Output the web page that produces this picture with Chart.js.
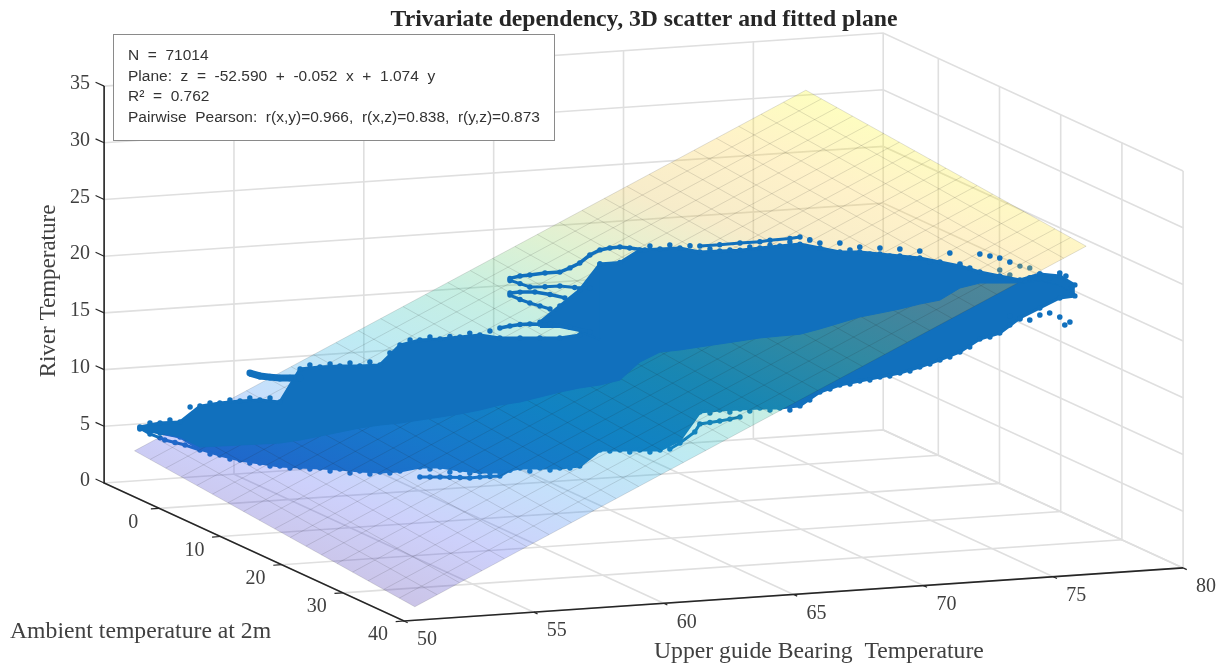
<!DOCTYPE html>
<html>
<head>
<meta charset="utf-8">
<title>Trivariate dependency</title>
<script src="https://cdn.jsdelivr.net/npm/chart.js@4/dist/chart.umd.min.js"></script>
<style>
  html, body { margin: 0; padding: 0; background: #fff; }
  canvas { display: block; }
</style>
</head>
<body>
<canvas id="chart" width="1227" height="668"></canvas>
<script>
// Axis ticks
const bearingTicks = [50, 55, 60, 65, 70, 75, 80];
const ambientTicks = [0, 10, 20, 30, 40];
const riverTicks = [0, 5, 10, 15, 20, 25, 30, 35];
const ambientMin = -9;
const riverMax = 35;

// Fitted plane: z = c0 + c1 * ambient + c2 * bearing
const planeCoef = [-52.59, -0.052, 1.074];
const planeBearing = [51.1, 76.95];
const planeAmbient = [-8.7, 37.1];
const planeCells = [30, 18];

// Scatter cloud, as readings along the bearing axis
const cloudBearing = [51.07, 51.63, 52.18, 52.73, 53.28, 53.84, 54.39, 54.94, 55.50, 56.05, 56.60, 57.15, 57.71, 58.26, 58.81, 59.37, 59.92, 60.47, 61.02, 61.58, 62.13, 62.68, 63.23, 63.79, 64.34, 64.89, 65.45, 66.00, 66.55, 67.10, 67.66, 68.21, 68.76, 69.32, 69.87, 70.42, 70.97, 71.53, 72.08, 72.63, 73.19, 73.74, 74.29, 74.84, 75.40, 75.95, 76.50, 76.92];
const cloudAmbient = [-7.70, -6.78, -5.85, -4.93, -4.01, -3.09, -2.17, -1.24, -0.32, 0.60, 1.52, 2.44, 3.36, 4.29, 5.21, 6.13, 7.05, 7.97, 8.90, 9.82, 10.74, 11.66, 12.58, 13.50, 14.43, 15.35, 16.27, 17.19, 18.11, 19.03, 19.96, 20.88, 21.80, 22.72, 23.64, 24.57, 25.49, 26.41, 27.33, 28.25, 29.17, 30.10, 31.02, 31.94, 32.86, 33.78, 34.70, 35.39];
const riverTop = [5.10, 5.59, 5.82, 7.37, 7.78, 8.10, 8.33, 8.30, 11.35, 11.67, 11.90, 12.05, 12.28, 14.18, 14.76, 14.99, 15.32, 15.63, 15.51, 15.65, 15.80, 15.94, 16.35, 22.75, 23.02, 24.27, 24.50, 24.73, 24.52, 24.76, 24.97, 25.30, 25.62, 25.93, 25.73, 25.52, 25.66, 25.63, 25.59, 25.57, 25.35, 25.14, 24.75, 24.54, 24.33, 25.01, 24.97, 24.29];
const riverMid = [4.92, 4.71, 4.50, 3.76, 3.99, 4.22, 4.45, 4.68, 5.09, 5.58, 6.08, 6.58, 6.98, 7.30, 7.71, 8.11, 8.53, 9.02, 9.60, 10.01, 10.59, 11.17, 11.68, 12.08, 12.66, 14.39, 15.41, 15.74, 16.15, 16.55, 16.96, 17.37, 17.68, 17.98, 18.59, 19.26, 19.93, 20.42, 20.92, 21.50, 21.99, 23.20, 23.78, 23.92, 24.07, 24.47, 24.18, 23.50];
const riverBottom = [4.92, 4.71, 4.50, 3.58, 3.19, 2.90, 2.78, 2.65, 2.71, 2.76, 2.81, 2.79, 2.84, 3.07, 3.56, 3.70, 3.59, 3.55, 3.69, 4.19, 4.33, 4.47, 4.80, 6.35, 6.49, 6.63, 6.77, 7.80, 10.41, 10.73, 10.96, 11.19, 11.33, 11.66, 13.03, 13.79, 14.29, 14.78, 15.27, 15.95, 16.71, 17.56, 18.85, 19.51, 20.98, 22.01, 23.03, 23.32];

// Lobe above the gap near bearing 62-64
const lobeBearing = [62.13, 62.68, 63.23, 63.79];
const lobeAmbient = [10.74, 11.66, 12.58, 13.50];
const lobeTop = [17.20, 18.76, 20.32, 22.75];
const lobeBottom = [16.76, 16.90, 16.70, 16.05];

// Excursions of the cloud, [bearing, ambient, river]
const tongueLow = [[54.11, -2.63, 10.64], [54.39, -2.17, 10.45], [54.67, -1.71, 10.42], [54.94, -1.24, 10.41], [55.22, -0.78, 10.48], [55.50, -0.32, 10.56]];
const beadStrip = [[61.02, 8.90, 16.39], [61.30, 9.36, 16.64], [61.58, 9.82, 16.85], [61.85, 10.28, 16.96], [62.13, 10.74, 17.02], [62.41, 11.20, 17.10], [62.96, 12.12, 16.95], [63.51, 13.04, 16.68]];
const tongueMidTop = [[61.30, 9.36, 19.55], [61.58, 9.82, 19.70], [61.99, 10.51, 19.82], [62.41, 11.20, 19.70], [62.82, 11.89, 19.51]];
const tongueMidLow = [[61.30, 9.36, 19.37], [61.58, 9.82, 19.05], [61.85, 10.28, 18.81], [62.13, 10.74, 18.62], [62.41, 11.20, 18.42]];
const tongueHighTop = [[61.30, 9.36, 20.84], [61.58, 9.82, 21.12], [61.85, 10.28, 21.28], [62.27, 10.97, 21.56], [62.68, 11.66, 21.75], [62.96, 12.12, 22.19], [63.23, 12.58, 22.70], [63.51, 13.04, 23.47], [63.79, 13.50, 23.99], [64.06, 13.97, 24.23], [64.34, 14.43, 24.39], [64.61, 14.89, 24.37], [65.03, 15.58, 24.30]];
const tongueHighLow = [[61.30, 9.36, 20.66], [61.58, 9.82, 20.45], [61.85, 10.28, 20.23], [62.27, 10.97, 20.35], [62.68, 11.66, 20.52], [63.09, 12.35, 20.50], [63.51, 13.04, 20.56]];
const ridgeTop = [[66.55, 18.11, 25.05], [67.10, 19.03, 25.30], [67.66, 19.96, 25.60], [68.21, 20.88, 25.85], [68.49, 21.34, 26.06], [69.04, 22.26, 26.35], [69.32, 22.72, 26.56]];
const tipUnder = [[51.07, -7.70, 5.01], [51.35, -7.24, 4.55], [51.63, -6.78, 4.28], [51.76, -6.55, 4.13], [52.04, -6.08, 3.98], [52.32, -5.62, 3.83], [52.73, -4.93, 3.49]];
const rowUnder = [[58.81, 5.21, 2.68], [59.09, 5.67, 2.75], [59.37, 6.13, 2.82], [59.64, 6.59, 2.88], [59.92, 7.05, 2.92], [60.19, 7.51, 2.95], [60.47, 7.97, 3.10], [60.75, 8.43, 3.22], [61.02, 8.90, 3.34], [61.30, 9.36, 3.94]];
const chainUnder = [[65.72, 16.73, 6.93], [66.00, 17.19, 7.53], [66.41, 17.88, 8.62], [66.55, 18.11, 9.36], [66.83, 18.57, 9.55], [67.10, 19.03, 9.76], [67.38, 19.50, 10.00], [67.66, 19.96, 10.26]];

// Beads on the edge of the cloud
const edgeTop = [[51.35, -7.24, 5.52], [51.90, -6.31, 5.93], [52.46, -5.39, 7.21], [53.01, -4.47, 7.71], [53.56, -3.55, 8.12], [54.11, -2.63, 8.44], [54.67, -1.71, 8.58], [55.77, 0.14, 11.77], [56.33, 1.06, 12.00], [56.88, 1.98, 12.24], [57.43, 2.90, 12.47], [57.98, 3.83, 13.40], [58.54, 4.75, 14.69], [59.09, 5.67, 15.10], [59.64, 6.59, 15.29], [60.19, 7.51, 15.73], [60.75, 8.43, 16.05], [65.17, 15.81, 24.69], [65.72, 16.73, 24.92], [66.28, 17.65, 25.00], [66.83, 18.57, 24.86], [67.38, 19.50, 24.91], [67.93, 20.42, 25.32], [68.49, 21.34, 25.63], [69.04, 22.26, 26.04]];
const edgeBottom = [[53.01, -4.47, 3.21], [53.56, -3.55, 2.92], [54.11, -2.63, 2.71], [54.67, -1.71, 2.58], [55.22, -0.78, 2.55], [55.77, 0.14, 2.60], [56.33, 1.06, 2.57], [56.88, 1.98, 2.53], [57.43, 2.90, 2.59], [57.98, 3.83, 2.82], [59.09, 5.67, 3.46], [59.64, 6.59, 3.33], [60.19, 7.51, 3.40], [60.75, 8.43, 3.53], [61.30, 9.36, 3.94], [61.85, 10.28, 3.99], [62.41, 11.20, 4.22], [62.96, 12.12, 4.55], [64.06, 13.97, 6.33], [64.61, 14.89, 6.38], [65.17, 15.81, 6.53], [66.83, 18.57, 10.40], [67.38, 19.50, 10.63], [67.93, 20.42, 10.86], [68.49, 21.34, 11.09], [69.04, 22.26, 11.23], [69.59, 23.18, 12.26], [70.15, 24.10, 13.37], [70.70, 25.03, 13.95], [71.25, 25.95, 14.44], [71.80, 26.87, 14.94], [72.36, 27.79, 15.53], [72.91, 28.71, 16.28], [73.46, 29.64, 17.05], [74.01, 30.56, 18.07], [74.57, 31.48, 19.09], [75.12, 32.40, 20.29]];

// Loose points on the warm end
const loosePoints = [[69.59, 23.18, 26.37], [69.87, 23.64, 26.17], [70.42, 24.57, 26.31], [70.70, 25.03, 25.77], [70.97, 25.49, 26.10], [71.25, 25.95, 25.56], [71.53, 26.41, 26.16], [71.80, 26.87, 25.52], [72.08, 27.33, 26.21], [72.36, 27.79, 25.49], [72.63, 28.25, 26.18], [72.91, 28.71, 25.28], [73.46, 29.64, 26.22], [73.74, 30.10, 25.32], [74.01, 30.56, 25.04], [74.29, 31.02, 26.34], [74.57, 31.48, 26.23], [74.84, 31.94, 26.13], [75.12, 32.40, 25.85], [75.67, 33.32, 24.59], [75.95, 33.78, 25.01], [76.22, 34.24, 24.73], [76.50, 34.70, 25.23], [76.67, 34.98, 25.02], [76.83, 35.26, 24.09], [75.67, 33.32, 20.88], [75.95, 33.78, 21.39], [76.22, 34.24, 21.64], [76.50, 34.70, 21.35], [76.78, 35.17, 20.99], [76.64, 34.93, 20.69], [75.40, 32.86, 20.89], [75.12, 32.40, 21.08]];
const looseUnder = [[74.84, 31.94, 25.07], [75.12, 32.40, 24.70], [75.40, 32.86, 25.56], [75.67, 33.32, 25.47]];

const infoLines = ['N  =  71014', 'Plane:  z  =  -52.590  +  -0.052  x  +  1.074  y', 'R\u00b2  =  0.762', 'Pairwise  Pearson:  r(x,y)=0.966,  r(x,z)=0.838,  r(y,z)=0.873'];

// Orthographic view of the box, in canvas pixels
function project(bearing, ambient, river) {
  return {
    x: 404 + (bearing - 50) * 25.97 + (ambient - 40) * 6.12,
    y: 621 - (bearing - 50) * 1.77 + (ambient - 40) * 2.816 - river * 11.34
  };
}
function fromTriples(list) { return list.map(p => project(p[0], p[1], p[2])); }
function fromStations(b, a, z) { return b.map((v, i) => project(v, a[i], z[i])); }
function planeZ(bearing, ambient) { return planeCoef[0] + planeCoef[1] * ambient + planeCoef[2] * bearing; }

const bearingMin = bearingTicks[0], bearingMax = bearingTicks[bearingTicks.length - 1];
const ambientMax = ambientTicks[ambientTicks.length - 1];
const gridColor = '#dfdfdf', axisColor = '#262626', dotColor = '#1170bd';
const datasets = [];

function addLine(points, color, width, order) {
  datasets.push({ data: points, showLine: true, pointRadius: 0, borderColor: color, borderWidth: width, order: order, tension: 0 });
}
function addCloud(points, width, radius, order, fill) {
  datasets.push({ data: points, showLine: width > 0, pointRadius: radius, pointBorderWidth: 0, backgroundColor: dotColor, borderColor: dotColor, borderWidth: width, order: order, fill: fill || false, tension: 0 });
}

// Walls and floor
riverTicks.forEach(z => {
  addLine([project(bearingMin, ambientMin, z), project(bearingMax, ambientMin, z), project(bearingMax, ambientMax, z)], gridColor, 1.6, 50);
});
bearingTicks.forEach(b => {
  addLine([project(b, ambientMax, 0), project(b, ambientMin, 0), project(b, ambientMin, riverMax)], gridColor, 1.6, 50);
});
ambientTicks.forEach(a => {
  addLine([project(bearingMin, a, 0), project(bearingMax, a, 0), project(bearingMax, a, riverMax)], gridColor, 1.6, 50);
});

// Part of the cloud under the plane
addCloud(fromStations(cloudBearing, cloudAmbient, riverMid), 2, 0, 30, '+1');
addCloud(fromStations(cloudBearing, cloudAmbient, riverBottom), 3, 2.7, 29);
addCloud(fromTriples(tipUnder), 3, 2.7, 28);
addCloud(fromTriples(rowUnder), 3, 2.7, 28);
addCloud(fromTriples(chainUnder), 3, 2.7, 28);
addCloud(fromTriples(edgeBottom), 0, 2.7, 28);
addCloud(fromTriples(looseUnder), 0, 2.7, 27);
const planeAfter = datasets.length - 1;

// Part of the cloud above the plane
addCloud(fromStations(cloudBearing, cloudAmbient, riverTop), 3, 2.7, 20, '+1');
addCloud(fromStations(cloudBearing, cloudAmbient, riverMid), 1, 0, 19);
addCloud(fromStations(lobeBearing, lobeAmbient, lobeTop), 3, 2.7, 18, '+1');
addCloud(fromStations(lobeBearing, lobeAmbient, lobeBottom), 2, 0, 17);
addCloud(fromTriples(tongueLow), 7, 3.4, 16);
addCloud(fromTriples(beadStrip), 3.5, 2.7, 16);
addCloud(fromTriples(tongueMidTop), 3.5, 2.7, 16);
addCloud(fromTriples(tongueMidLow), 3, 2.7, 16);
addCloud(fromTriples(tongueHighTop), 3.5, 2.7, 16);
addCloud(fromTriples(tongueHighLow), 3, 2.7, 16);
addCloud(fromTriples(ridgeTop), 3, 2.7, 16);
addCloud(fromTriples(edgeTop), 0, 2.7, 16);
addCloud(fromTriples(loosePoints), 0, 2.8, 15);

// Black axes and their ticks
addLine([project(bearingMin, ambientMin, riverMax), project(bearingMin, ambientMin, 0), project(bearingMin, ambientMax, 0), project(bearingMax, ambientMax, 0)], axisColor, 1.6, 1);
riverTicks.forEach(z => addLine([project(bearingMin, ambientMin, z), project(bearingMin, ambientMin - 1.4, z)], axisColor, 1.2, 1));
ambientTicks.forEach(a => addLine([project(bearingMin, a, 0), project(bearingMin - 0.32, a, 0)], axisColor, 1.2, 1));
bearingTicks.forEach(b => addLine([project(b, ambientMax, 0), project(b, ambientMax + 0.6, 0)], axisColor, 1.2, 1));

function parula(t) {
  const stops = [[62, 38, 168], [70, 83, 240], [40, 140, 240], [16, 180, 210], [45, 195, 150], [135, 205, 90], [225, 185, 60], [253, 205, 55], [249, 251, 20]];
  return stops[Math.round(t * (stops.length - 1))];
}

const planePlugin = {
  id: 'plane',
  afterDatasetDraw(chart, args) {
    if (args.index !== planeAfter) return;
    const sx = chart.scales.x, sy = chart.scales.y, ctx = chart.ctx;
    const px = (b, a) => {
      const p = project(b, a, planeZ(b, a));
      return { x: sx.getPixelForValue(p.x), y: sy.getPixelForValue(p.y) };
    };
    const [b0, b1] = planeBearing, [a0, a1] = planeAmbient;
    const corners = [px(b0, a0), px(b1, a0), px(b1, a1), px(b0, a1)];

    // colour follows river value; find its direction on screen
    const o = px(b0, a1), eb = px(b1, a1), ea = px(b0, a0);
    const v1 = { x: eb.x - o.x, y: eb.y - o.y }, v2 = { x: ea.x - o.x, y: ea.y - o.y };
    const d1 = planeZ(b1, a1) - planeZ(b0, a1), d2 = planeZ(b0, a0) - planeZ(b0, a1);
    const det = v1.x * v2.y - v1.y * v2.x;
    const gx = (d1 * v2.y - d2 * v1.y) / det, gy = (v1.x * d2 - v2.x * d1) / det;
    const zLow = planeZ(b0, a1), zHigh = planeZ(b1, a0);
    const len = gx * gx + gy * gy;
    const grad = ctx.createLinearGradient(o.x, o.y, o.x + gx / len * (zHigh - zLow), o.y + gy / len * (zHigh - zLow));
    for (let i = 0; i <= 8; i++) {
      const c = parula(i / 8);
      grad.addColorStop(i / 8, 'rgba(' + c[0] + ',' + c[1] + ',' + c[2] + ',0.27)');
    }
    ctx.save();
    ctx.beginPath();
    corners.forEach((c, i) => i ? ctx.lineTo(c.x, c.y) : ctx.moveTo(c.x, c.y));
    ctx.closePath();
    ctx.fillStyle = grad;
    ctx.fill();

    // mesh
    ctx.strokeStyle = 'rgba(30,30,30,0.17)';
    ctx.lineWidth = 0.8;
    for (let i = 0; i <= planeCells[0]; i++) {
      const b = b0 + (b1 - b0) * i / planeCells[0];
      const p = px(b, a0), q = px(b, a1);
      ctx.beginPath(); ctx.moveTo(p.x, p.y); ctx.lineTo(q.x, q.y); ctx.stroke();
    }
    for (let i = 0; i <= planeCells[1]; i++) {
      const a = a0 + (a1 - a0) * i / planeCells[1];
      const p = px(b0, a), q = px(b1, a);
      ctx.beginPath(); ctx.moveTo(p.x, p.y); ctx.lineTo(q.x, q.y); ctx.stroke();
    }
    ctx.restore();
  }
};

const textPlugin = {
  id: 'texts',
  afterDraw(chart) {
    const ctx = chart.ctx;
    ctx.save();
    ctx.textBaseline = 'middle';

    ctx.fillStyle = '#262626';
    ctx.textAlign = 'center';
    ctx.font = 'bold 23.7px "Liberation Serif"';
    ctx.fillText('Trivariate dependency, 3D scatter and fitted plane', 644, 20);

    ctx.fillStyle = '#404040';
    ctx.font = '20px "Liberation Serif"';
    ctx.textAlign = 'right';
    riverTicks.forEach(z => {
      const p = project(bearingMin, ambientMin, z);
      ctx.fillText(String(z), p.x - 14, p.y - 2);
    });
    ctx.textAlign = 'center';
    ambientTicks.forEach(a => {
      const p = project(bearingMin, a, 0);
      ctx.fillText(String(a), p.x - 26, p.y + 14);
    });
    bearingTicks.forEach(b => {
      const p = project(b, ambientMax, 0);
      ctx.fillText(String(b), p.x + 23, p.y + 19);
    });

    ctx.font = '23.7px "Liberation Serif"';
    ctx.textAlign = 'left';
    ctx.fillText('Ambient temperature at 2m', 10, 632);
    ctx.fillText('Upper guide Bearing  Temperature', 654, 652);
    ctx.save();
    ctx.translate(49, 291);
    ctx.rotate(-Math.PI / 2);
    ctx.textAlign = 'center';
    ctx.font = '23px "Liberation Serif"';
    ctx.fillText('River Temperature', 0, 0);
    ctx.restore();

    // information box
    ctx.fillStyle = '#ffffff';
    ctx.strokeStyle = '#8a8a8a';
    ctx.lineWidth = 1;
    ctx.fillRect(113.5, 34.5, 441, 106);
    ctx.strokeRect(113.5, 34.5, 441, 106);
    ctx.fillStyle = '#333333';
    ctx.font = '15.5px "Liberation Sans"';
    ctx.textAlign = 'left';
    infoLines.forEach((line, i) => ctx.fillText(line, 128, 56 + i * 20.5));
    ctx.restore();
  }
};

new Chart(document.getElementById('chart'), {
  type: 'scatter',
  data: { datasets: datasets },
  options: {
    responsive: false,
    animation: false,
    events: [],
    layout: { padding: 0, autoPadding: false },
    plugins: { legend: { display: false }, tooltip: { enabled: false } },
    scales: {
      x: { type: 'linear', display: false, min: 0, max: 1227 },
      y: { type: 'linear', display: false, min: 0, max: 668, reverse: true }
    }
  },
  plugins: [planePlugin, textPlugin]
});
</script>
</body>
</html>
